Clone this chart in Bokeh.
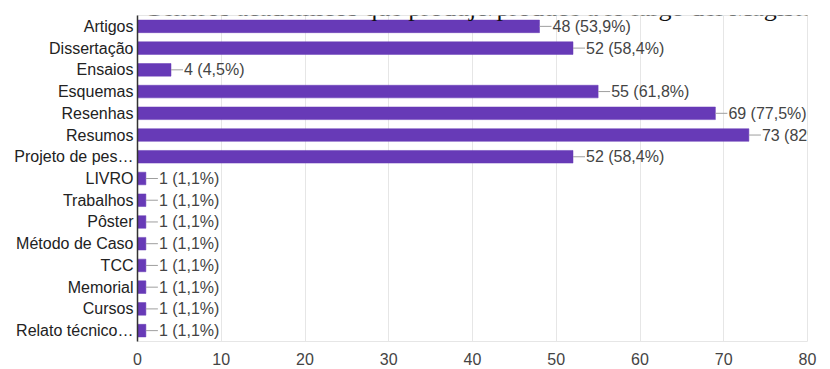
from bokeh.plotting import figure
from bokeh.models import ColumnDataSource, Range1d, FixedTicker, Label
from bokeh.core.properties import value
from bokeh.embed import file_html
from bokeh.resources import INLINE

title_text = "Gráfico 2 – Gêneros acadêmicos que produjo/produce a lo largo del Magíster"
categories = ["Artigos", "Dissertação", "Ensaios", "Esquemas", "Resenhas", "Resumos",
              "Projeto de pes…", "LIVRO", "Trabalhos", "Pôster", "Método de Caso", "TCC",
              "Memorial", "Cursos", "Relato técnico…"]
counts = [48, 52, 4, 55, 69, 73, 52, 1, 1, 1, 1, 1, 1, 1, 1]
percents = ["53,9%", "58,4%", "4,5%", "61,8%", "77,5%", "82%", "58,4%", "1,1%", "1,1%",
            "1,1%", "1,1%", "1,1%", "1,1%", "1,1%", "1,1%"]
x_ticks = [0, 10, 20, 30, 40, 50, 60, 70, 80]

n = len(categories)
ypos = [n - 1 - i for i in range(n)]
labels = [f"{c} ({p})" for c, p in zip(counts, percents)]
px_per_unit = 670 / 80.0
conn_end = [c + 12 / px_per_unit for c in counts]

src = ColumnDataSource(dict(y=ypos, v=counts, lab=labels, x1=conn_end,
                            zero=[0] * n))

p = figure(frame_width=670, frame_height=326, output_backend="svg",
           toolbar_location=None, x_range=Range1d(0, 80),
           y_range=Range1d(-0.5, n - 0.5),
           min_border_top=15, min_border_left=137, min_border_right=21,
           min_border_bottom=0)
p.background_fill_color = "white"
p.border_fill_color = "white"
p.outline_line_color = "#e6e6e6"

p.hbar(y="y", left="zero", right="v", height=0.58, source=src,
       fill_color="#673ab7", line_color="#673ab7", line_width=0.5)
p.segment(x0="v", y0="y", x1="x1", y1="y", source=src, line_color="#9e9e9e",
          line_width=1)
p.text(x="x1", y="y", text="lab", source=src, text_baseline="middle",
       text_align="left", x_offset=1, text_font=value("Liberation Sans"),
       text_font_size="16px", text_color="#444444")

# x axis
p.xaxis.ticker = FixedTicker(ticks=x_ticks)
p.xaxis.axis_line_color = None
p.xaxis.major_tick_line_color = None
p.xaxis.minor_tick_line_color = None
p.xaxis.major_tick_out = 0
p.xaxis.major_label_standoff = 11
p.xaxis.major_label_text_font = "Liberation Sans"
p.xaxis.major_label_text_font_size = "16px"
p.xaxis.major_label_text_color = "#444444"

# y axis
p.yaxis.ticker = FixedTicker(ticks=ypos)
p.yaxis.major_label_overrides = {y: c for y, c in zip(ypos, categories)}
p.yaxis.axis_line_color = "#333333"
p.yaxis.axis_line_width = 1.5
p.yaxis.major_tick_line_color = None
p.yaxis.minor_tick_line_color = None
p.yaxis.major_tick_out = 0
p.yaxis.major_tick_in = 0
p.yaxis.major_label_standoff = 4
p.yaxis.major_label_text_font = "Liberation Sans"
p.yaxis.major_label_text_font_size = "16px"
p.yaxis.major_label_text_color = "#222222"

p.xgrid.grid_line_color = "#e6e6e6"
p.xgrid.ticker = FixedTicker(ticks=x_ticks)
p.ygrid.grid_line_color = None

# partially cut-off title at the very top
p.add_layout(Label(x=-119 / px_per_unit, y=(n - 0.5) + 8 / 21.733, text=title_text,
                   text_font="Liberation Serif", text_font_size="26px",
                   text_color="#111111", text_baseline="alphabetic"))

open("out.html", "w").write(file_html(p, INLINE))
